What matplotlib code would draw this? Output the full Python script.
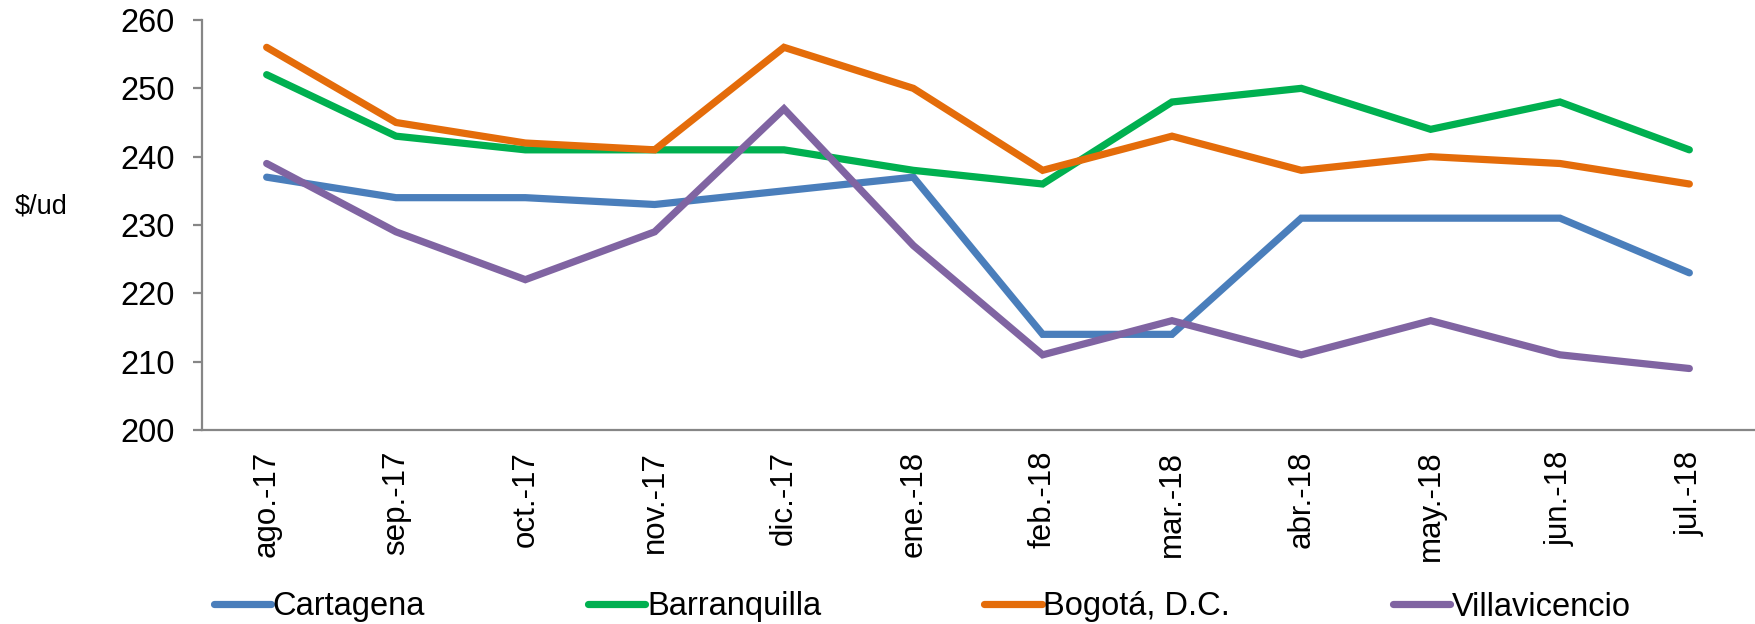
import matplotlib
matplotlib.use('Agg')
import matplotlib.pyplot as plt

# === Datos ===
meses = ['ago.-17', 'sep.-17', 'oct.-17', 'nov.-17', 'dic.-17', 'ene.-18',
         'feb.-18', 'mar.-18', 'abr.-18', 'may.-18', 'jun.-18', 'jul.-18']
cartagena = [237, 234, 234, 233, 235, 237, 214, 214, 231, 231, 231, 223]
barranquilla = [252, 243, 241, 241, 241, 238, 236, 248, 250, 244, 248, 241]
bogota = [256, 245, 242, 241, 256, 250, 238, 243, 238, 240, 239, 236]
villavicencio = [239, 229, 222, 229, 247, 227, 211, 216, 211, 216, 211, 209]

series = [
    ('Cartagena', cartagena, '#4A7EBB'),
    ('Barranquilla', barranquilla, '#00B050'),
    ('Bogotá, D.C.', bogota, '#E46C0A'),
    ('Villavicencio', villavicencio, '#8064A2'),
]

plt.rcParams['font.family'] = ['Liberation Sans', 'DejaVu Sans']

fig = plt.figure(figsize=(17.56, 6.24), dpi=100)
ax = fig.add_axes([202 / 1756, 1 - 430 / 624, (1754 - 202) / 1756, (430 - 20) / 624])

x = list(range(len(meses)))
for nombre, valores, color in series:
    ax.plot(x, valores, color=color, linewidth=5.2, solid_capstyle='round',
            solid_joinstyle='miter', label=nombre)

# === Ejes ===
ax.set_ylim(200, 260)
ax.set_yticks(range(200, 261, 10))
ax.set_xlim(-0.5, len(meses) - 0.5)
ax.set_xticks(x)
ax.set_xticklabels(meses, rotation=90)

for lado in ['top', 'right']:
    ax.spines[lado].set_visible(False)
for lado in ['left', 'bottom']:
    ax.spines[lado].set_color('#868686')
    ax.spines[lado].set_linewidth(1.6)

ax.tick_params(axis='y', labelsize=23.5, length=6.5, width=1.6, color='#868686', pad=13)
ax.tick_params(axis='x', labelsize=22.5, length=0, pad=15)

fig.text(15 / 1756, 1 - 207 / 624, '\\$/ud', fontsize=19.5, va='center', ha='left')

fig.legend(loc='center left', bbox_to_anchor=(214 / 1756, 1 - 607 / 624), ncol=4,
           frameon=False, fontsize=23.5, handlelength=1.75, handletextpad=0.05,
           columnspacing=5.0, borderpad=0, borderaxespad=0)

fig.savefig('out.png', dpi=100)
